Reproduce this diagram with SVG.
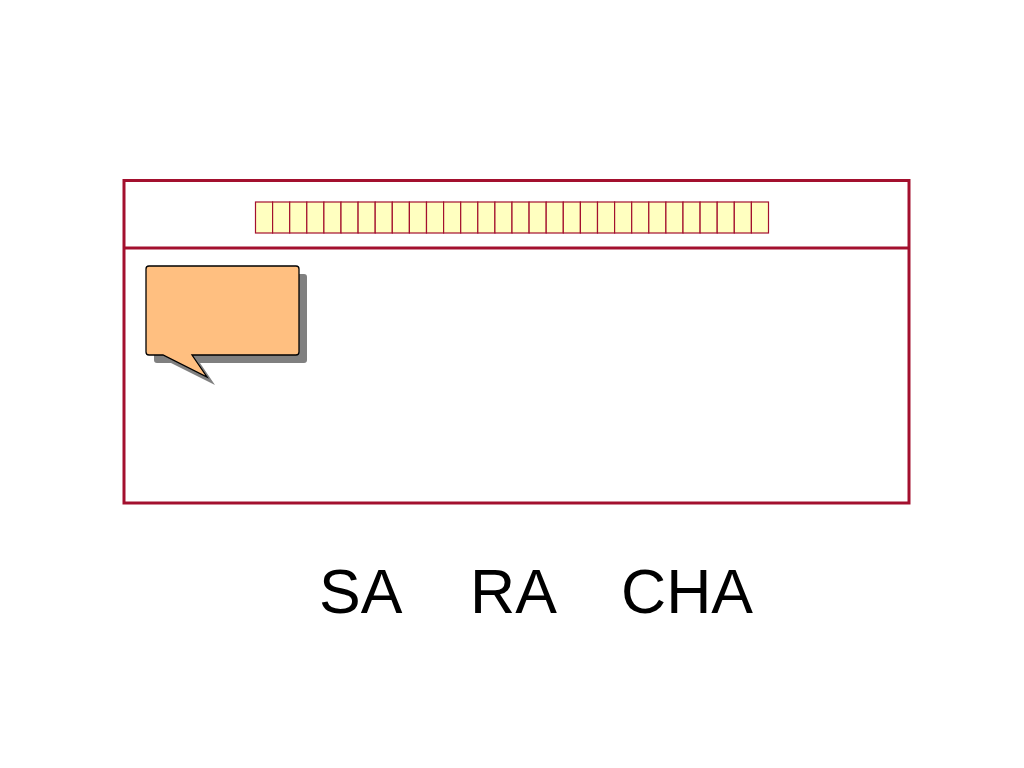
<svg xmlns="http://www.w3.org/2000/svg" width="1024" height="768" viewBox="0 0 1024 768">
<defs>
<style>
.frame{fill:none;stroke:#A3102E;stroke-width:3}
.cell{fill:#FFFFC0;stroke:#A3102E;stroke-width:1.2}
.lbl{font-family:"Liberation Sans",Arial,sans-serif;font-size:62.5px;fill:#000}
</style>
</defs>
<rect width="1024" height="768" fill="#fff"/>
<g id="frame">
<rect class="frame" x="124" y="180.5" width="785" height="322.5"/>
<line class="frame" x1="124" y1="248" x2="909" y2="248"/>
</g>
<g id="cells">
<rect class="cell" x="255.5" y="202" width="17.1" height="31"/><rect class="cell" x="272.6" y="202" width="17.1" height="31"/><rect class="cell" x="289.7" y="202" width="17.1" height="31"/><rect class="cell" x="306.8" y="202" width="17.1" height="31"/><rect class="cell" x="323.9" y="202" width="17.1" height="31"/><rect class="cell" x="341" y="202" width="17.1" height="31"/><rect class="cell" x="358.1" y="202" width="17.1" height="31"/><rect class="cell" x="375.2" y="202" width="17.1" height="31"/><rect class="cell" x="392.3" y="202" width="17.1" height="31"/><rect class="cell" x="409.4" y="202" width="17.1" height="31"/><rect class="cell" x="426.5" y="202" width="17.1" height="31"/><rect class="cell" x="443.6" y="202" width="17.1" height="31"/><rect class="cell" x="460.7" y="202" width="17.1" height="31"/><rect class="cell" x="477.8" y="202" width="17.1" height="31"/><rect class="cell" x="494.9" y="202" width="17.1" height="31"/><rect class="cell" x="512" y="202" width="17.1" height="31"/><rect class="cell" x="529.1" y="202" width="17.1" height="31"/><rect class="cell" x="546.2" y="202" width="17.1" height="31"/><rect class="cell" x="563.3" y="202" width="17.1" height="31"/><rect class="cell" x="580.4" y="202" width="17.1" height="31"/><rect class="cell" x="597.5" y="202" width="17.1" height="31"/><rect class="cell" x="614.6" y="202" width="17.1" height="31"/><rect class="cell" x="631.7" y="202" width="17.1" height="31"/><rect class="cell" x="648.8" y="202" width="17.1" height="31"/><rect class="cell" x="665.9" y="202" width="17.1" height="31"/><rect class="cell" x="683" y="202" width="17.1" height="31"/><rect class="cell" x="700.1" y="202" width="17.1" height="31"/><rect class="cell" x="717.2" y="202" width="17.1" height="31"/><rect class="cell" x="734.3" y="202" width="17.1" height="31"/><rect class="cell" x="751.4" y="202" width="17.1" height="31"/>
</g>
<g id="callout">
<path d="M157,274 H304 Q307,274 307,277 V360 Q307,363 304,363 H200 L215,385 L171,363 H157 Q154,363 154,360 V277 Q154,274 157,274 Z" fill="#808080"/>
<path d="M149,266 H296 Q299,266 299,269 V352 Q299,355 296,355 H192 L207,377 L163,355 H149 Q146,355 146,352 V269 Q146,266 149,266 Z" fill="#FFBF80" stroke="#000" stroke-width="1.3" stroke-linejoin="miter"/>
</g>
<g id="labels">
<text class="lbl" x="319" y="612.5">SA</text>
<text class="lbl" x="470" y="612.5">RA</text>
<text class="lbl" x="621" y="612.5">CHA</text>
</g>
</svg>
